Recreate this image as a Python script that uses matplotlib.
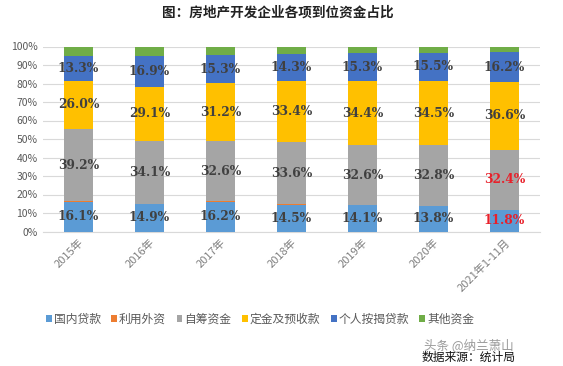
import matplotlib.pyplot as plt
import numpy as np

plt.rcParams['font.family'] = ['Noto Sans CJK SC', 'DejaVu Sans']

years = ["2015年", "2016年", "2017年", "2018年", "2019年", "2020年", "2021年1-11月"]
domestic_loan = [16.1, 14.9, 16.2, 14.5, 14.1, 13.8, 11.8]
foreign = [0.2, 0.1, 0.1, 0.1, 0.1, 0.1, 0.0]
self_raised = [39.2, 34.1, 32.6, 33.6, 32.6, 32.8, 32.4]
deposits = [26.0, 29.1, 31.2, 33.4, 34.4, 34.5, 36.6]
mortgage = [13.3, 16.9, 15.3, 14.3, 15.3, 15.5, 16.2]
other = [5.2, 4.9, 4.6, 4.1, 3.5, 3.3, 3.0]

series = [
    ("国内贷款", domestic_loan, "#5b9bd5", True),
    ("利用外资", foreign, "#ed7d31", False),
    ("自筹资金", self_raised, "#a5a5a5", True),
    ("定金及预收款", deposits, "#ffc000", True),
    ("个人按揭贷款", mortgage, "#4472c4", True),
    ("其他资金", other, "#70ad47", False),
]

fig = plt.figure(figsize=(5.63, 3.66), dpi=100)
ax = fig.add_axes([43 / 563, 1 - 231.5 / 366, 497 / 563, 185 / 366])

x = np.arange(len(years))
bottom = np.zeros(len(years))
for name, vals, color, show in series:
    vals = np.array(vals, dtype=float)
    ax.bar(x, vals, 0.41, bottom=bottom, color=color, label=name, zorder=3)
    if show:
        for i, v in enumerate(vals):
            c = "#404040"
            if i == len(years) - 1 and name in ("国内贷款", "自筹资金"):
                c = "#e8202a"
            ax.text(x[i], bottom[i] + v / 2, f"{v:.1f}%", ha="center", va="center",
                    fontsize=8.8, fontweight="bold", color=c, family="DejaVu Serif", zorder=4)
    bottom += vals

ax.set_xlim(-0.5, len(years) - 0.5)
ax.set_ylim(0, 100)
ax.set_yticks(range(0, 101, 10))
ax.set_yticklabels([f"{t}%" for t in range(0, 101, 10)], fontsize=7.5, color="#595959")
ax.yaxis.grid(True, color="#d9d9d9", lw=0.8, zorder=0)
ax.set_xticks(x)
ax.set_xticklabels(years, rotation=45, ha="right", rotation_mode="anchor",
                   fontsize=8, color="#7f7f7f")
ax.tick_params(length=0, pad=4)
for s in ["top", "right", "left"]:
    ax.spines[s].set_visible(False)
ax.spines["bottom"].set_color("#d9d9d9")

fig.text(278 / 563, 1 - 13 / 366, "图：房地产开发企业各项到位资金占比", ha="center", va="center",
         fontsize=9.8, fontweight="bold", color="#222222")

handles, labels = ax.get_legend_handles_labels()
fig.legend(handles, labels, loc="center", bbox_to_anchor=(260 / 563, 1 - 319 / 366), ncol=6,
           frameon=False, fontsize=8.5, handlelength=0.5, handleheight=0.5,
           handletextpad=0.15, columnspacing=0.9, labelcolor="#595959")

fig.text(514 / 563, 1 - 345 / 366, "头条 @纳兰萧山", ha="right", va="center",
         fontsize=9, color="#9a9a9a")
fig.text(516 / 563, 1 - 357 / 366, "数据来源：统计局", ha="right", va="center",
         fontsize=8.5, color="#111111")

fig.savefig("out.png", dpi=100)
